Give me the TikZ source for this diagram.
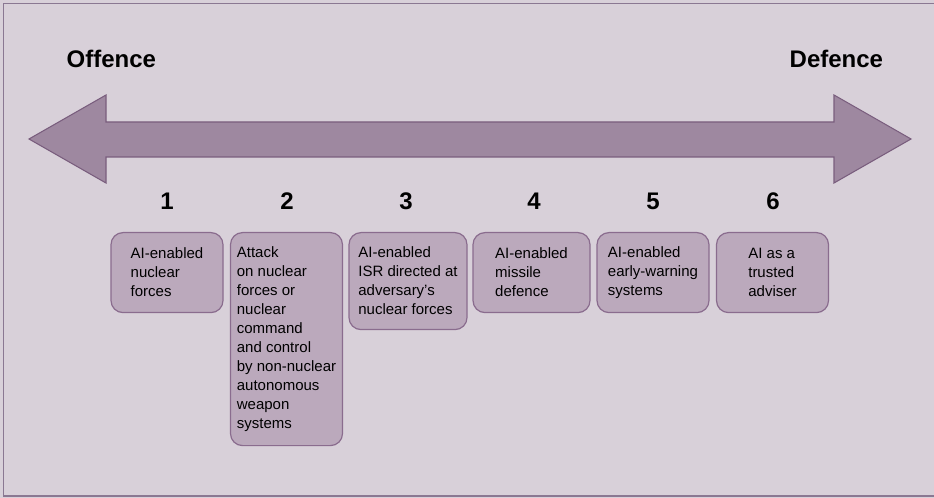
\documentclass[tikz,border=0pt]{standalone}
\usepackage{fontspec}
\setmainfont{Liberation Sans}
\definecolor{panelbg}{HTML}{D8D0D9}
\definecolor{panelline}{HTML}{8A7892}
\definecolor{arrowfill}{HTML}{9E88A0}
\definecolor{arrowline}{HTML}{7A5E7E}
\definecolor{boxfill}{HTML}{BBA9BC}
\definecolor{boxline}{HTML}{8A6C8E}
\tikzset{
  stagebox/.style={draw=boxline, fill=boxfill, line width=0.9pt, rounded corners=9pt,
    align=left, inner sep=0pt, minimum width=84pt, anchor=north,
    font=\fontsize{11.25}{14.25}\selectfont},
  stagenum/.style={anchor=base, font=\fontsize{18}{18}\selectfont\bfseries},
  endlabel/.style={anchor=base west, font=\fontsize{18}{18}\selectfont\bfseries}
}
\begin{document}
\begin{tikzpicture}[x=0.75pt,y=-0.75pt]
                \useasboundingbox (0,0) rectangle (934,498);
                \fill[panelbg] (0,0) rectangle (934,498);
                \draw[panelline,line width=1.2pt] (934,3.5) -- (3.5,3.5) -- (3.5,496) -- (934,496);
                % double arrow
                \draw[arrowline,fill=arrowfill,line width=0.8pt] (29,139) -- (106,95) -- (106,122) -- (834,122)
                    -- (834,95) -- (911,139) -- (834,183) -- (834,157) -- (106,157) -- (106,183) -- cycle;
                \node[endlabel] (offence) at (62,68) {Offence};
                \node[endlabel] (defence) at (785,68) {Defence};
                % numbers
                \node[stagenum] (n1) at (167,210) {1};
                \node[stagenum] (n2) at (287,210) {2};
                \node[stagenum] (n3) at (406,210) {3};
                \node[stagenum] (n4) at (534,210) {4};
                \node[stagenum] (n5) at (653,210) {5};
                \node[stagenum] (n6) at (773,210) {6};
                % boxes
                \node[stagebox,minimum height=60pt] (b1) at (167,232) {AI-enabled\\nuclear\\forces};
                \node[stagebox,minimum height=159.75pt] (b2) at (286.5,232) {Attack\\on nuclear\\forces or\\nuclear\\command\\and control\\by non-nuclear\\autonomous\\weapon\\systems};
                \node[stagebox,minimum width=88.5pt,minimum height=72.75pt] (b3) at (408,232) {AI-enabled\\ISR directed at\\adversary's\\nuclear forces};
                \node[stagebox,minimum width=87.75pt,minimum height=60pt] (b4) at (531.5,232) {AI-enabled\\missile\\defence};
                \node[stagebox,minimum height=60pt] (b5) at (653,232) {AI-enabled\\early-warning\\systems};
                \node[stagebox,minimum height=60pt] (b6) at (772.5,232) {AI as a\\trusted\\adviser};
            \end{tikzpicture}
\end{document}
